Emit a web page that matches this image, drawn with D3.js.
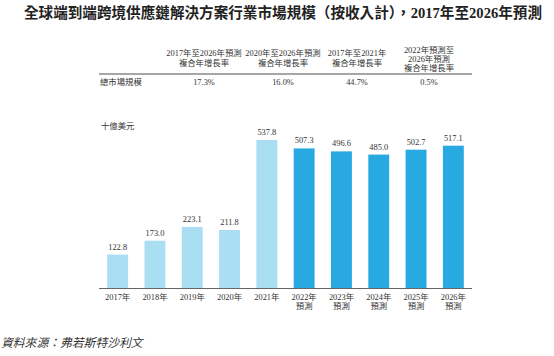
<!DOCTYPE html>
<html><head><meta charset="utf-8">
<script src="https://cdn.jsdelivr.net/npm/d3@7/dist/d3.min.js"></script>
<style>body{margin:0;background:#fff}svg{display:block}</style>
</head><body><svg id="c" width="554" height="356"></svg>
<script>
const years = ["2017年","2018年","2019年","2020年","2021年","2022年","2023年","2024年","2025年","2026年"];
const forecast = [false,false,false,false,false,true,true,true,true,true];
const values = [122.8,173.0,223.1,211.8,537.8,507.3,496.6,485.0,502.7,517.1];
const cagrHeaders = [["2017年至2026年預測","複合年增長率"],["2020年至2026年預測","複合年增長率"],["2017年至2021年","複合年增長率"],["2022年預測至","2026年預測","複合年增長率"]];
const cagrValues = ["17.3%","16.0%","44.7%","0.5%"];
const rowLabel = "總市場規模";
const title = "全球端到端跨境供應鏈解決方案行業市場規模（按收入計），2017年至2026年預測";
const unit = "十億美元";
const source = "資料來源：弗若斯特沙利文";

const FONT = "'Liberation Serif','Noto Sans CJK TC',serif";
const svg = d3.select("#c");
const plotLeft = 99, plotRight = 472, plotBase = 288.5, plotTop = 140;

svg.append("text").attr("x", 283).attr("y", 18).attr("text-anchor","middle")
  .attr("font-family", FONT).attr("font-size", 14.6).attr("font-weight","bold").attr("fill","#222").text(title);

const colX = [204, 283, 357, 429];
cagrHeaders.forEach((lines,i)=>{
  const n = lines.length;
  const startY = n===3 ? 52.5 : 55.5;
  const lh = n===3 ? 9 : 10.5;
  lines.forEach((l,j)=>{
    svg.append("text").attr("x", colX[i]).attr("y", startY + j*lh).attr("text-anchor","middle")
      .attr("font-family", FONT).attr("font-size", 8.4).attr("fill","#333").text(l);
  });
  svg.append("text").attr("x", colX[i]).attr("y", 85).attr("text-anchor","middle")
    .attr("font-family", FONT).attr("font-size", 8.4).attr("fill","#333").text(cagrValues[i]);
});
svg.append("line").attr("x1", plotLeft).attr("x2", plotRight).attr("y1", 74).attr("y2", 74)
  .attr("stroke","#888").attr("stroke-width",1.6);
svg.append("text").attr("x", 100).attr("y", 85).attr("font-family", FONT).attr("font-size", 8.4).attr("fill","#333").text(rowLabel);

svg.append("text").attr("x", 101).attr("y", 129).attr("font-family", FONT).attr("font-size", 8.4).attr("fill","#333").text(unit);

const x = d3.scaleBand().domain(years).range([plotLeft, plotRight]).paddingInner(0.44).paddingOuter(0.22);
const y = d3.scaleLinear().domain([0, 537.8]).range([plotBase, plotTop]);

svg.selectAll("rect.bar").data(values).join("rect").attr("class","bar")
  .attr("x",(d,i)=>x(years[i])).attr("width", x.bandwidth())
  .attr("y", d=>y(d)).attr("height", d=>plotBase-y(d))
  .attr("fill",(d,i)=>forecast[i] ? "#29a9e1" : "#a9def3");

svg.selectAll("text.val").data(values).join("text").attr("class","val")
  .attr("x",(d,i)=>x(years[i])+x.bandwidth()/2).attr("y", d=>y(d)-5)
  .attr("text-anchor","middle").attr("font-family", FONT).attr("font-size", 8.4).attr("fill","#333")
  .text(d=>d.toFixed(1));

const axis = d3.axisBottom(x).tickSize(0).tickPadding(0);
const g = svg.append("g").attr("transform",`translate(0,${plotBase})`).call(axis);
g.select(".domain").attr("stroke","#666").attr("stroke-width",1.2).attr("d",`M${plotLeft},0H${plotRight}`);
g.selectAll(".tick text").remove();
g.selectAll(".tick").each(function(d,i){
  const t = d3.select(this).append("text").attr("text-anchor","middle").attr("font-family", FONT).attr("font-size", 8.4).attr("fill","#333");
  t.append("tspan").attr("x",0).attr("y",11.5).text(d);
  if (forecast[i]) t.append("tspan").attr("x",0).attr("y",20.5).text("預測");
});

svg.append("text").attr("x", 1).attr("y", 347).attr("font-family", FONT).attr("font-size", 11.8)
  .attr("font-style","italic").attr("fill","#333").text(source);
</script></body></html>
